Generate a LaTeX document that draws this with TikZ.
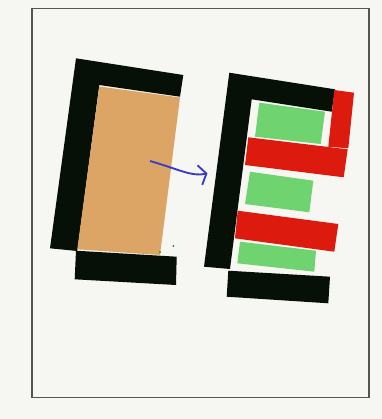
\documentclass[tikz,border=0pt]{standalone}
\usetikzlibrary{arrows.meta}
\definecolor{bg}{HTML}{F6F6F3}
\definecolor{blk}{HTML}{061006}
\definecolor{ochre}{HTML}{DDA565}
\definecolor{grn}{HTML}{6FD46F}
\definecolor{rd}{HTML}{DC1A0E}
\definecolor{arrblue}{HTML}{3B3BC8}
\definecolor{framec}{HTML}{555555}
\tikzset{
  blackpart/.style={fill=blk, draw=none},
  corepart/.style={fill=ochre, draw=none},
  greenpart/.style={fill=grn, draw=none},
  redpart/.style={fill=rd, draw=none},
  framebox/.style={draw=framec, line width=1.1pt},
  flowarrow/.style={draw=arrblue, line width=1.4pt, -{Straight Barb[length=5pt,width=15pt,line width=1.4pt]}},
}
\begin{document}
\begin{tikzpicture}[x=0.75pt,y=-0.75pt]
\useasboundingbox[fill=bg] (0,0) rectangle (382,419);
\draw[framebox] (32,8.5) rectangle (369,397.5);
% left: black C
\path[blackpart] (76,58.3) -- (183.3,75) -- (180,96.7) -- (99.3,85) -- (77.3,251) -- (50,248.3) -- cycle;
\path[corepart] (99.3,86.5) -- (180,97.5) -- (160,255) -- (77.3,249.3) -- cycle;
\path[blackpart] (76,250.7) -- (176.7,256.7) -- (176,285) -- (74.7,279.3) -- cycle;
\fill[green!60!black] (160,252) circle (1);
\fill[green!60!black] (173.3,246) circle (1);
% arrow
\coordinate (as) at (150,161);
\coordinate (ae) at (207.5,173.3);
\draw[flowarrow] (as) .. controls (178,169) and (192,177) .. (ae);
% right: black C
\path[blackpart] (229.3,72.7) -- (335,89.3) -- (331.7,111.7) -- (251.7,99.3) -- (230,269) -- (204,266.7) -- cycle;
\path[blackpart] (228.3,270.7) -- (330,276.7) -- (328.3,303.3) -- (226.7,296.7) -- cycle;
% greens
\path[greenpart] (259.3,102.7) -- (325,111.7) -- (320.7,144) -- (255,136.7) -- cycle;
\path[greenpart] (250,171.7) -- (313.3,180.7) -- (309.3,212.3) -- (245,204) -- cycle;
\path[greenpart] (240,241.7) -- (316,250.7) -- (314.3,271.7) -- (237.3,263.3) -- cycle;
% reds
\path[redpart] (334.3,90) -- (354,92.7) -- (348.3,148.3) -- (328.3,146.7) -- cycle;
\path[redpart] (248.3,137.3) -- (347.7,149.3) -- (343.7,177.3) -- (245,165) -- cycle;
\path[redpart] (237.7,210.7) -- (338.3,224) -- (334.3,251.7) -- (235,238.3) -- cycle;
\end{tikzpicture}
\end{document}
